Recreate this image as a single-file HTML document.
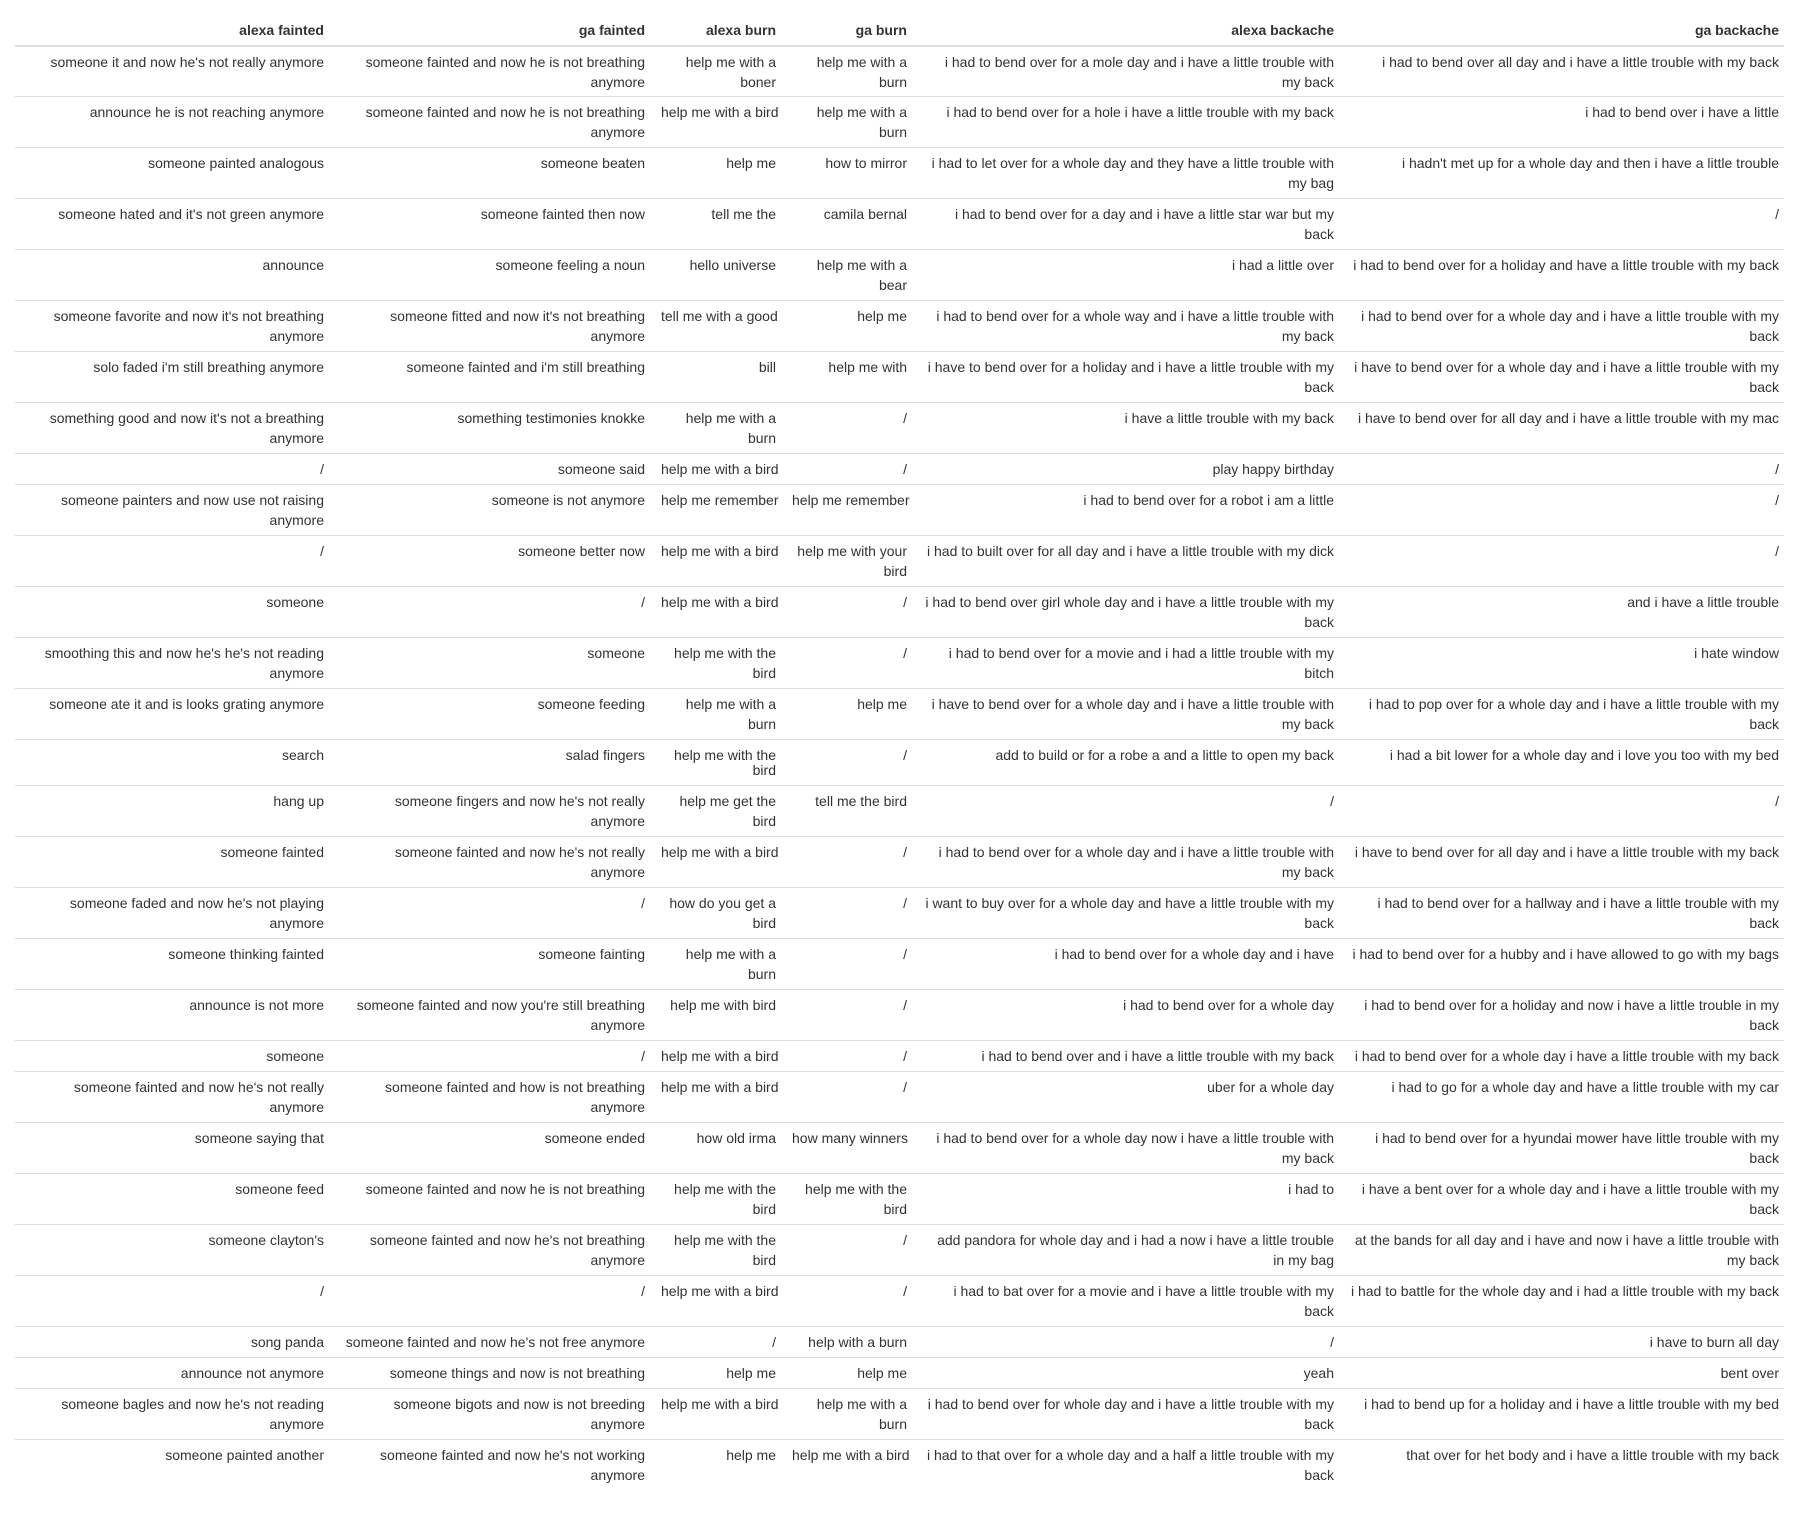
<!DOCTYPE html>
<html><head><meta charset="utf-8"><style>
html,body{margin:0;padding:0;background:#fff;width:1794px;height:1526px;overflow:hidden}
table{position:absolute;left:15px;top:10px;border-collapse:collapse;table-layout:fixed;width:1769px;font-family:"Liberation Sans",Arial,sans-serif;font-size:14px;color:#333;line-height:20px}
th,td{text-align:right;white-space:nowrap;vertical-align:top;padding:5px 8px 0 8px;overflow:visible}
th{font-weight:bold;padding:10px 8px 5px 8px;border-bottom:2px solid #ddd;height:20px}
td{border-top:1px solid #ddd}
tbody tr:first-child td{border-top:none}
td:last-child,th:last-child{padding-right:5px}
tr.a td{height:45px;box-sizing:border-box}
tr.b td{height:31px;box-sizing:border-box}
tr.c td{height:46px;box-sizing:border-box;line-height:15px}
tr.a{height:51px}tr.b{height:31px}tr.c{height:46px}
</style></head><body>
<table>
<colgroup><col style="width:317px"><col style="width:321px"><col style="width:131px"><col style="width:131px"><col style="width:427px"><col style="width:442px"></colgroup>
<thead><tr><th>alexa fainted</th><th>ga fainted</th><th>alexa burn</th><th>ga burn</th><th>alexa backache</th><th>ga backache</th></tr></thead>
<tbody>
<tr class="a" style="height:50px"><td>someone it and now he's not really anymore</td><td>someone fainted and now he is not breathing<br>anymore</td><td>help me with a<br>boner</td><td>help me with a<br>burn</td><td>i had to bend over for a mole day and i have a little trouble with<br>my back</td><td>i had to bend over all day and i have a little trouble with my back</td></tr>
<tr class="a"><td>announce he is not reaching anymore</td><td>someone fainted and now he is not breathing<br>anymore</td><td>help me with a bird</td><td>help me with a<br>burn</td><td>i had to bend over for a hole i have a little trouble with my back</td><td>i had to bend over i have a little</td></tr>
<tr class="a"><td>someone painted analogous</td><td>someone beaten</td><td>help me</td><td>how to mirror</td><td>i had to let over for a whole day and they have a little trouble with<br>my bag</td><td>i hadn't met up for a whole day and then i have a little trouble</td></tr>
<tr class="a"><td>someone hated and it's not green anymore</td><td>someone fainted then now</td><td>tell me the</td><td>camila bernal</td><td>i had to bend over for a day and i have a little star war but my<br>back</td><td>/</td></tr>
<tr class="a"><td>announce</td><td>someone feeling a noun</td><td>hello universe</td><td>help me with a<br>bear</td><td>i had a little over</td><td>i had to bend over for a holiday and have a little trouble with my back</td></tr>
<tr class="a"><td>someone favorite and now it's not breathing<br>anymore</td><td>someone fitted and now it's not breathing<br>anymore</td><td>tell me with a good</td><td>help me</td><td>i had to bend over for a whole way and i have a little trouble with<br>my back</td><td>i had to bend over for a whole day and i have a little trouble with my<br>back</td></tr>
<tr class="a"><td>solo faded i'm still breathing anymore</td><td>someone fainted and i'm still breathing</td><td>bill</td><td>help me with</td><td>i have to bend over for a holiday and i have a little trouble with my<br>back</td><td>i have to bend over for a whole day and i have a little trouble with my<br>back</td></tr>
<tr class="a"><td>something good and now it's not a breathing<br>anymore</td><td>something testimonies knokke</td><td>help me with a<br>burn</td><td>/</td><td>i have a little trouble with my back</td><td>i have to bend over for all day and i have a little trouble with my mac</td></tr>
<tr class="b"><td>/</td><td>someone said</td><td>help me with a bird</td><td>/</td><td>play happy birthday</td><td>/</td></tr>
<tr class="a"><td>someone painters and now use not raising<br>anymore</td><td>someone is not anymore</td><td>help me remember</td><td>help me remember</td><td>i had to bend over for a robot i am a little</td><td>/</td></tr>
<tr class="a"><td>/</td><td>someone better now</td><td>help me with a bird</td><td>help me with your<br>bird</td><td>i had to built over for all day and i have a little trouble with my dick</td><td>/</td></tr>
<tr class="a"><td>someone</td><td>/</td><td>help me with a bird</td><td>/</td><td>i had to bend over girl whole day and i have a little trouble with my<br>back</td><td>and i have a little trouble</td></tr>
<tr class="a"><td>smoothing this and now he's he's not reading<br>anymore</td><td>someone</td><td>help me with the<br>bird</td><td>/</td><td>i had to bend over for a movie and i had a little trouble with my<br>bitch</td><td>i hate window</td></tr>
<tr class="a"><td>someone ate it and is looks grating anymore</td><td>someone feeding</td><td>help me with a<br>burn</td><td>help me</td><td>i have to bend over for a whole day and i have a little trouble with<br>my back</td><td>i had to pop over for a whole day and i have a little trouble with my<br>back</td></tr>
<tr class="c"><td style="line-height:20px">search</td><td style="line-height:20px">salad fingers</td><td style="padding-top:8px">help me with the<br>bird</td><td style="line-height:20px">/</td><td style="line-height:20px">add to build or for a robe a and a little to open my back</td><td style="line-height:20px">i had a bit lower for a whole day and i love you too with my bed</td></tr>
<tr class="a"><td>hang up</td><td>someone fingers and now he's not really<br>anymore</td><td>help me get the<br>bird</td><td>tell me the bird</td><td>/</td><td>/</td></tr>
<tr class="a"><td>someone fainted</td><td>someone fainted and now he's not really<br>anymore</td><td>help me with a bird</td><td>/</td><td>i had to bend over for a whole day and i have a little trouble with<br>my back</td><td>i have to bend over for all day and i have a little trouble with my back</td></tr>
<tr class="a"><td>someone faded and now he's not playing<br>anymore</td><td>/</td><td>how do you get a<br>bird</td><td>/</td><td>i want to buy over for a whole day and have a little trouble with my<br>back</td><td>i had to bend over for a hallway and i have a little trouble with my<br>back</td></tr>
<tr class="a"><td>someone thinking fainted</td><td>someone fainting</td><td>help me with a<br>burn</td><td>/</td><td>i had to bend over for a whole day and i have</td><td>i had to bend over for a hubby and i have allowed to go with my bags</td></tr>
<tr class="a"><td>announce is not more</td><td>someone fainted and now you're still breathing<br>anymore</td><td>help me with bird</td><td>/</td><td>i had to bend over for a whole day</td><td>i had to bend over for a holiday and now i have a little trouble in my<br>back</td></tr>
<tr class="b"><td>someone</td><td>/</td><td>help me with a bird</td><td>/</td><td>i had to bend over and i have a little trouble with my back</td><td>i had to bend over for a whole day i have a little trouble with my back</td></tr>
<tr class="a"><td>someone fainted and now he's not really<br>anymore</td><td>someone fainted and how is not breathing<br>anymore</td><td>help me with a bird</td><td>/</td><td>uber for a whole day</td><td>i had to go for a whole day and have a little trouble with my car</td></tr>
<tr class="a"><td>someone saying that</td><td>someone ended</td><td>how old irma</td><td>how many winners</td><td>i had to bend over for a whole day now i have a little trouble with<br>my back</td><td>i had to bend over for a hyundai mower have little trouble with my<br>back</td></tr>
<tr class="a"><td>someone feed</td><td>someone fainted and now he is not breathing</td><td>help me with the<br>bird</td><td>help me with the<br>bird</td><td>i had to</td><td>i have a bent over for a whole day and i have a little trouble with my<br>back</td></tr>
<tr class="a"><td>someone clayton's</td><td>someone fainted and now he's not breathing<br>anymore</td><td>help me with the<br>bird</td><td>/</td><td>add pandora for whole day and i had a now i have a little trouble<br>in my bag</td><td>at the bands for all day and i have and now i have a little trouble with<br>my back</td></tr>
<tr class="a"><td>/</td><td>/</td><td>help me with a bird</td><td>/</td><td>i had to bat over for a movie and i have a little trouble with my<br>back</td><td>i had to battle for the whole day and i had a little trouble with my back</td></tr>
<tr class="b"><td>song panda</td><td>someone fainted and now he's not free anymore</td><td>/</td><td>help with a burn</td><td>/</td><td>i have to burn all day</td></tr>
<tr class="b"><td>announce not anymore</td><td>someone things and now is not breathing</td><td>help me</td><td>help me</td><td>yeah</td><td>bent over</td></tr>
<tr class="a"><td>someone bagles and now he's not reading<br>anymore</td><td>someone bigots and now is not breeding<br>anymore</td><td>help me with a bird</td><td>help me with a<br>burn</td><td>i had to bend over for whole day and i have a little trouble with my<br>back</td><td>i had to bend up for a holiday and i have a little trouble with my bed</td></tr>
<tr class="a"><td>someone painted another</td><td>someone fainted and now he's not working<br>anymore</td><td>help me</td><td>help me with a bird</td><td>i had to that over for a whole day and a half a little trouble with my<br>back</td><td>that over for het body and i have a little trouble with my back</td></tr>
</tbody></table>
</body></html>
